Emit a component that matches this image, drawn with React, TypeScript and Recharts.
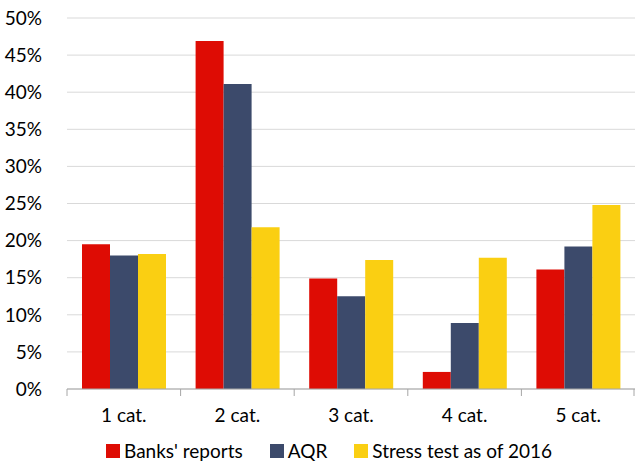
import { Bar, BarChart, CartesianGrid, Legend, XAxis, YAxis } from "recharts";

const categories = ["1 cat.", "2 cat.", "3 cat.", "4 cat.", "5 cat."];
const banksReports = [19.5, 46.9, 14.9, 2.3, 16.1];
const aqr = [18.0, 41.1, 12.5, 8.9, 19.2];
const stressTest = [18.2, 21.8, 17.4, 17.7, 24.8];
const yTicks = [0, 5, 10, 15, 20, 25, 30, 35, 40, 45, 50];

const FONT = "Lato, 'Open Sans', sans-serif";
const WIDTH = 635;
const HEIGHT = 462;
const LEFT = 67;
const RIGHT = 0;
const BAND = (WIDTH - LEFT - RIGHT) / categories.length;

const data = categories.map((c, i) => ({
    cat: c,
    banks: banksReports[i],
    aqr: aqr[i],
    stress: stressTest[i],
}));

const series = [
    { key: "banks", name: "Banks' reports", color: "#DE0C04" },
    { key: "aqr", name: "AQR", color: "#3C4A6B" },
    { key: "stress", name: "Stress test as of 2016", color: "#FACF12" },
];

const CatTick = (props: any) => {
    const { x, y, payload, index } = props;
    const left = x - BAND / 2;
    const right = x + BAND / 2;
    return <g>
        <line x1={left} x2={left} y1={y - 8} y2={y - 1} stroke="#a6a6a6" />
        {index === categories.length - 1 && <line x1={right - 1} x2={right - 1} y1={y - 8} y2={y - 1} stroke="#a6a6a6" />}
        <text x={x} y={y + 25} textAnchor="middle" fill="#000" fontSize={19} fontFamily={FONT}>{payload.value}</text>
    </g>
}

const LegendContent = () => {
    return <div style={{ display: "flex", justifyContent: "center", paddingLeft: 50, paddingTop: 10, fontFamily: FONT, fontSize: 19, color: "#000" }}>
        {series.map((s) => (
            <div key={s.key} style={{ display: "flex", alignItems: "center", marginRight: 27 }}>
                <span style={{ width: 14, height: 14, background: s.color, marginRight: 4, display: "inline-block" }} />
                <span>{s.name}</span>
            </div>
        ))}
    </div>
}

const App = () => {
    return <div style={{ position: "absolute", left: 0, top: 0, width: WIDTH, height: HEIGHT, background: "#fff" }}>
        <BarChart width={WIDTH} height={HEIGHT} data={data} margin={{ top: 18, right: RIGHT, left: 0, bottom: 0 }}
            barGap={0} barCategoryGap={15}>
            <CartesianGrid vertical={false} stroke="#d9d9d9" />
            <XAxis dataKey="cat" tick={<CatTick />} tickLine={false} axisLine={{ stroke: "#a6a6a6" }} height={40} interval={0} />
            <YAxis width={LEFT} domain={[0, 50]} ticks={yTicks} tickFormatter={(v) => `${v}%`} axisLine={false} tickLine={false}
                tick={{ fill: "#000", fontSize: 19, fontFamily: FONT }} tickMargin={19} />
            <Legend verticalAlign="bottom" height={33} content={<LegendContent />} />
            {series.map((s) => (
                <Bar key={s.key} dataKey={s.key} name={s.name} fill={s.color} isAnimationActive={false} />
            ))}
        </BarChart>
    </div>
}

export default App;
